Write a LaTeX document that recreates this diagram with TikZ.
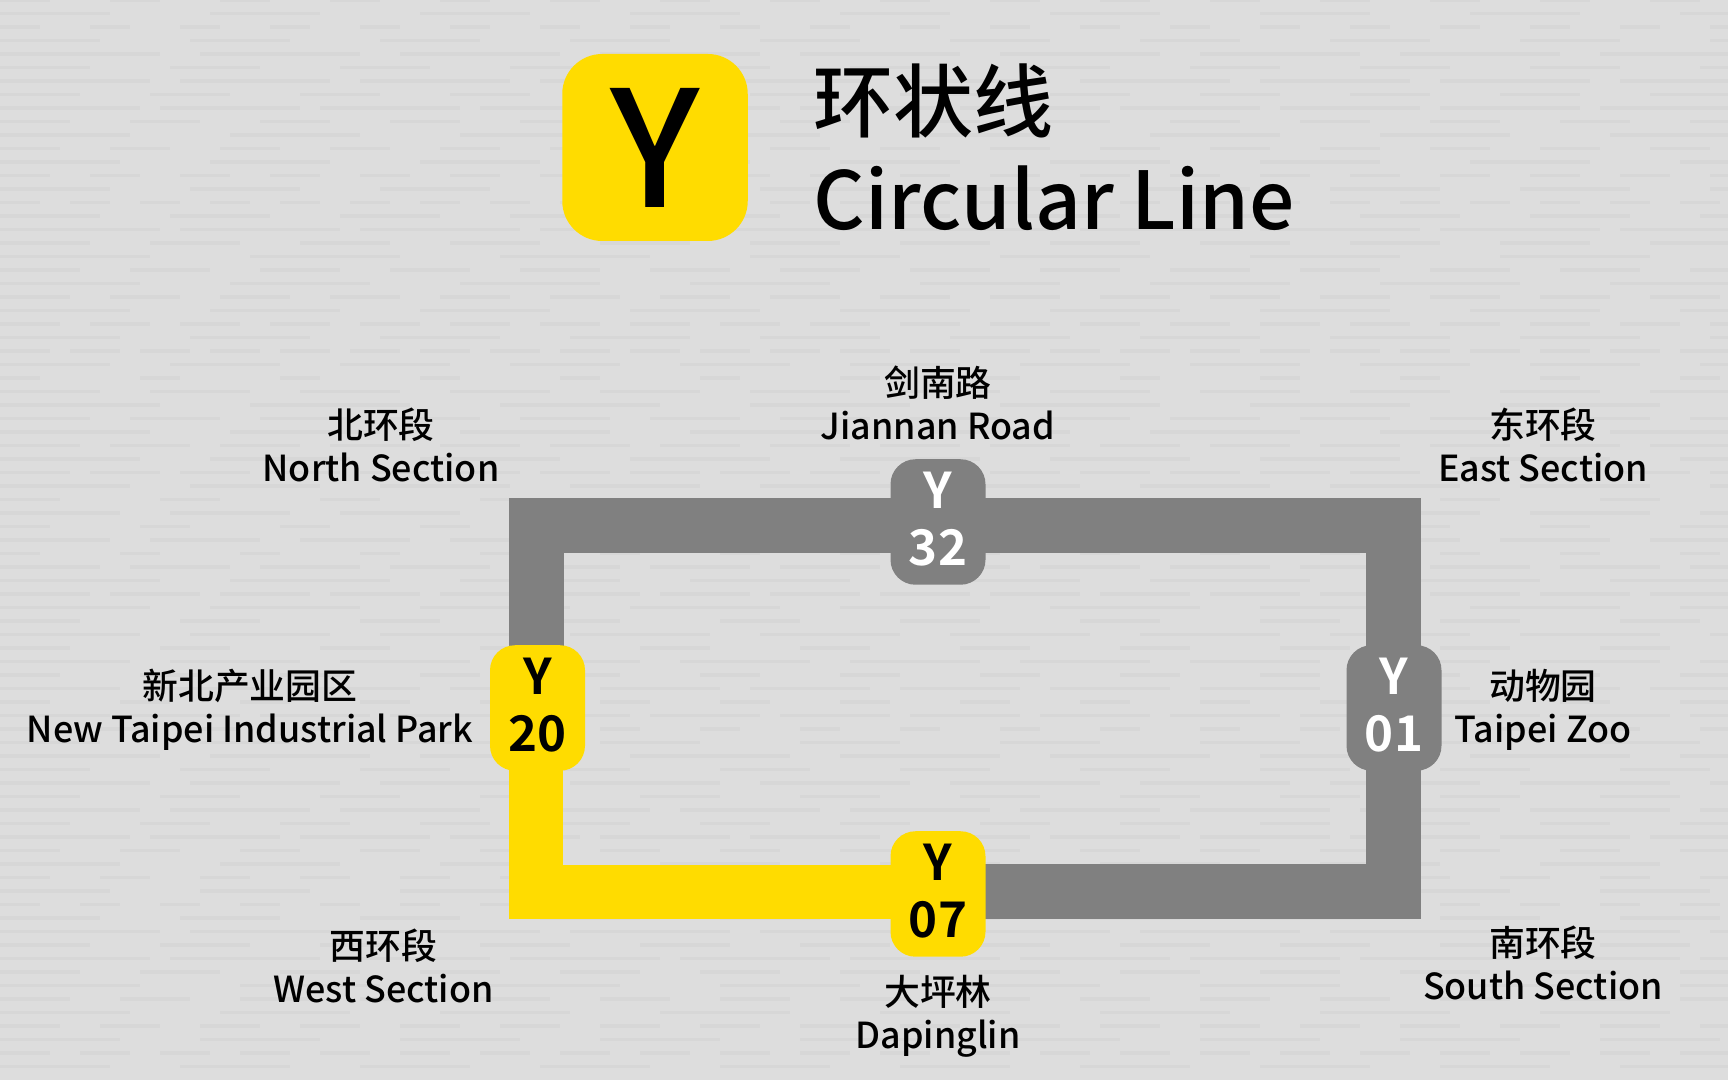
\documentclass[tikz,border=0pt]{standalone}
\usepackage{fontspec}
\setmainfont{Noto Sans CJK SC Medium}
\newfontfamily\stationfont{Noto Sans CJK SC Bold}
\usetikzlibrary{backgrounds}
\definecolor{lineyellow}{HTML}{FFDC00}
\definecolor{linegray}{HTML}{808080}
\definecolor{papergray}{HTML}{DDDDDD}

\begin{document}
\begin{tikzpicture} [
			open track/.style={linegray,line width=5.5mm},
			open now/.style={lineyellow,line width=5.4mm},
			weave/.style={black,opacity=0.025,line width=0.35mm},
			station/.style={rounded corners=2.5mm,minimum width=9.5mm,minimum height=12.55mm,inner sep=0pt,align=center,text depth=1.7pt,font=\fontsize{14}{16.2}\stationfont},
			closed station/.style={station,fill=linegray,text=white},
			active station/.style={station,fill=lineyellow,text=black},
			place name/.style={align=center,inner sep=0pt,font=\fontsize{10.2}{12.2}\selectfont}
			]
		\useasboundingbox (0,0) rectangle (17.28,10.8);

		% logo and title
		\node [fill=lineyellow, rounded corners=4mm, minimum width=18.55mm, minimum height=18.7mm, inner sep=0pt, font=\fontsize{46}{46}\selectfont] (logo) at (6.55,9.325) {Y};
		\node [anchor=west, inner sep=0pt, font=\fontsize{22.75}{24}\selectfont] (titlezh) at (8.13,9.79) {环状线};
		\node [anchor=west, inner sep=0pt, font=\fontsize{22.75}{24}\selectfont] (titleen) at (8.13,8.82) {Circular Line};

		% stations
		\node [closed station] (y32) at (9.38,5.58) {Y\\32};
		\node [active station] (y20) at (5.375,3.72) {Y\\20};
		\node [closed station] (y01) at (13.94,3.72) {Y\\01};
		\node [active station] (y07) at (9.38,1.86) {Y\\07};

		\coordinate (cnw) at (5.36,5.545);
		\coordinate (cne) at (13.93,5.545);
		\coordinate (cse) at (13.93,1.885);
		\coordinate (csw) at (5.36,1.88);

		\begin{scope}[on background layer]
			\fill [papergray] (0,0) rectangle (17.28,10.8);
			%paper texture
			\foreach \i in {1,...,80} {
				\pgfmathsetmacro{\dashon}{4+mod(\i*7,13)}
				\pgfmathsetmacro{\dashoff}{2+mod(\i*5,9)}
				\draw [weave, dash pattern=on \dashon mm off \dashoff mm] (0,\i*0.135) -- (17.28,\i*0.135);
			}
			\draw [open track] (cnw |- y20) -- (cnw) -- (cnw -| y32);
			\draw [open track] (cne -| y32) -- (cne) -- (cne |- y01);
			\draw [open track] (cne |- y01) -- (cse) -- (cse -| y07);
			\draw [open now] (csw |- y20) -- (csw) -- (csw -| y07);
		\end{scope}

		% names
		\node [place name] (jiannan) at (9.38,6.77) {剑南路\\Jiannan Road};
		\node [place name] (north) at (3.81,6.35) {北环段\\North Section};
		\node [place name] (east) at (15.43,6.35) {东环段\\East Section};
		\node [place name] (newtaipei) at (2.5,3.70) {新北产业园区\\New Taipei Industrial Park};
		\node [place name] (zoo) at (15.43,3.70) {动物园\\Taipei Zoo};
		\node [place name] (west) at (3.835,1.14) {西环段\\West Section};
		\node [place name] (dapinglin) at (9.38,0.64) {大坪林\\Dapinglin};
		\node [place name] (south) at (15.43,1.17) {南环段\\South Section};
		\end{tikzpicture}
\end{document}
